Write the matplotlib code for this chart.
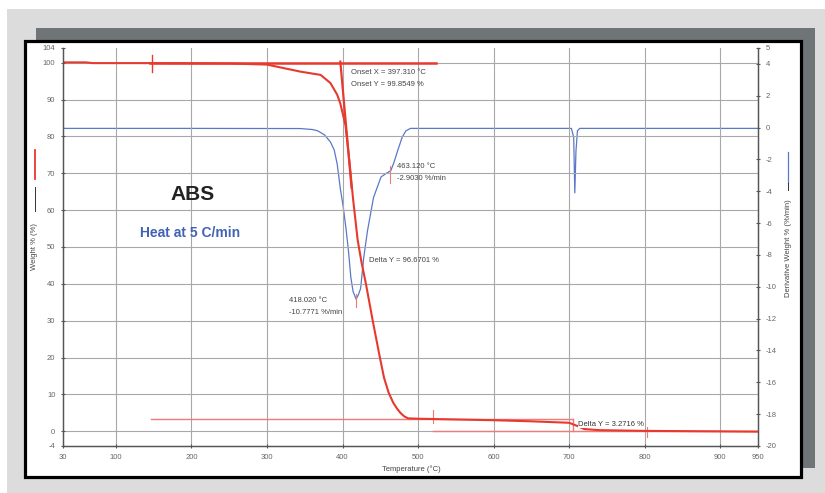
import matplotlib.pyplot as plt
from matplotlib.lines import Line2D
from matplotlib.patches import Rectangle

# weight curve (left axis, %)
temp_w = [30, 60, 70, 150, 250, 300, 344, 371, 384, 393, 397, 404, 409, 414, 420,
          425, 431, 440, 449, 455, 461, 467, 472, 477, 482, 487, 500, 550, 600,
          650, 700, 710, 720, 740, 800, 950]
weight = [100.1, 100.1, 99.9, 99.9, 99.8, 99.5, 97.6, 96.7, 94.5, 91.3, 89.0, 83.0,
          73.5, 63.0, 52.0, 46.0, 40.0, 30.0, 20.5, 14.5, 10.5, 7.8, 6.2, 4.9, 4.0,
          3.5, 3.4, 3.2, 3.0, 2.7, 2.3, 1.5, 0.6, 0.3, 0.1, -0.1]

# derivative weight curve (right axis, %/min)
temp_d = [30, 200, 344, 360, 367, 376, 384, 389, 393, 397, 401, 405, 408, 411, 414,
          418, 421, 424, 428, 433, 441, 451, 457, 464, 468, 473, 479, 484, 490, 600,
          703, 706, 707.5, 709, 711, 714, 800, 950]
deriv = [-0.05, -0.05, -0.06, -0.12, -0.2, -0.45, -0.9, -1.4, -2.3, -3.8, -5.0, -6.5,
         -7.8, -9.4, -10.3, -10.78, -10.5, -10.1, -8.2, -6.5, -4.4, -3.1, -2.9, -2.7,
         -2.2, -1.45, -0.6, -0.2, -0.05, -0.05, -0.05, -0.6, -4.1, -1.5, -0.2, -0.05,
         -0.05, -0.05]

x_ticks = [30, 100, 200, 300, 400, 500, 600, 700, 800, 900, 950]
y_ticks = [-4, 0, 10, 20, 30, 40, 50, 60, 70, 80, 90, 100, 104]
y2_ticks = [-20, -18, -16, -14, -12, -10, -8, -6, -4, -2, 0, 2, 4, 5]

onset_x, onset_y = 397.310, 99.8549
tangent_slope = -2.3
peak_t, peak_d = 418.020, -10.7771
shoulder_t, shoulder_d = 463.120, -2.9030
delta_main = 96.6701
delta_res = 3.2716
residue_hi, residue_lo = 3.3, 0.0

RED = "#e8392e"
LRED = "#f07a78"
BLUE = "#5a78c8"
TXT = "#444444"

W, H = 825, 493
plt.rcParams["font.family"] = ["Liberation Sans", "DejaVu Sans"]
plt.rcParams["axes.unicode_minus"] = False


def box(fig, x0, y0, x1, y1, **kw):
    fig.add_artist(Rectangle((x0 / W, 1 - y1 / H), (x1 - x0) / W, (y1 - y0) / H,
                             transform=fig.transFigure, **kw))


def vline_px(fig, x, y0, y1, **kw):
    fig.add_artist(Line2D([x / W, x / W], [1 - y0 / H, 1 - y1 / H],
                          transform=fig.transFigure, **kw))


def main():
    fig = plt.figure(figsize=(W / 100, H / 100), dpi=100)
    fig.patch.set_facecolor("white")

    # screenshot-like frame
    box(fig, 7, 9, 825, 493, facecolor="#dcdcdc", edgecolor="none", zorder=-3)
    box(fig, 36, 28, 815, 468, facecolor="#6f7477", edgecolor="none", zorder=-2)
    box(fig, 25, 41, 801, 477, facecolor="white", edgecolor="black", lw=2.3, zorder=-1)

    ax = fig.add_axes([63 / W, 1 - 446 / H, (758 - 63) / W, (446 - 48) / H])
    ax2 = ax.twinx()
    ax.set_zorder(ax2.get_zorder() + 1)
    ax.patch.set_visible(False)

    ax.set_xlim(30, 950)
    ax.set_ylim(-4, 104)
    ax2.set_ylim(-20, 5)
    ax.set_xticks(x_ticks)
    ax.set_yticks(y_ticks)
    ax2.set_yticks(y2_ticks)

    ax.grid(True, color="#a8a8a8", lw=0.8)
    for gl, t in zip(ax.get_ygridlines(), y_ticks):
        if t in (-4, 104):
            gl.set_visible(False)
    for gl, t in zip(ax.get_xgridlines(), x_ticks):
        if t in (30, 950):
            gl.set_visible(False)

    for a in (ax, ax2):
        a.spines["top"].set_visible(False)
        for s in ("left", "right", "bottom"):
            a.spines[s].set_color("#555555")
            a.spines[s].set_linewidth(0.9)
        a.tick_params(labelsize=5.5, labelcolor="#666666", color="#555555",
                      length=3, width=0.8, direction="inout", pad=4)

    # derivative curve
    ax2.plot(temp_d, deriv, color=BLUE, lw=0.9)
    ax2.plot([shoulder_t, shoulder_t], [shoulder_d + 0.5, shoulder_d - 0.6],
             color=LRED, lw=0.8)
    ax2.plot([peak_t, peak_t], [peak_d + 0.3, peak_d - 0.5], color=LRED, lw=0.8)

    # onset construction
    ax.plot([145, 524], [100, 100], color=RED, lw=1.8)
    ax.plot([148, 148], [97.5, 102], color=RED, lw=1.0)
    t_top = onset_x + (100.3 - onset_y) / tangent_slope
    t_end = onset_x + (66 - onset_y) / tangent_slope
    ax.plot([t_top, t_end], [100.3, 66], color=RED, lw=1.6)

    # residue step construction
    ax.plot([147, 705], [residue_hi, residue_hi], color=LRED, lw=1.0)
    ax.plot([520, 950], [residue_lo, residue_lo], color=LRED, lw=1.0)
    ax.plot([705, 705], [residue_hi, residue_lo], color=LRED, lw=1.0)
    ax.plot([520, 520], [5.7, 2.2], color=LRED, lw=0.8)
    ax.plot([803, 803], [1.2, -1.5], color=LRED, lw=0.8)

    # weight curve
    ax.plot(temp_w, weight, color=RED, lw=1.5)

    ax.text(411, 97.3, f"Onset X = {onset_x:.3f} °C", fontsize=5.5, color=TXT, va="center")
    ax.text(411, 94.2, f"Onset Y = {onset_y:.4f} %", fontsize=5.5, color=TXT, va="center")
    ax.text(472, 71.8, f"{shoulder_t:.3f} °C", fontsize=5.5, color=TXT, va="center")
    ax.text(472, 68.5, f"{shoulder_d:.4f} %/min", fontsize=5.5, color=TXT, va="center")
    ax.text(329, 35.4, f"{peak_t:.3f} °C", fontsize=5.5, color=TXT, va="center")
    ax.text(329, 32.2, f"{peak_d:.4f} %/min", fontsize=5.5, color=TXT, va="center")
    ax.text(435, 46.3, f"Delta Y = {delta_main:.4f} %", fontsize=5.5, color=TXT, va="center")
    ax.text(712, 1.9, f"Delta Y = {delta_res:.4f} %", fontsize=5.5, color="#333333",
            va="center", bbox=dict(facecolor="white", edgecolor="none", pad=0.5))

    ax.text(201, 64.2, "ABS", fontsize=15, fontweight="bold", color="#222222",
            ha="center", va="center")
    ax.text(132, 53.9, "Heat at 5 C/min", fontsize=10, fontweight="bold",
            color="#4262b4", va="center")

    # axis titles with their series markers
    fig.text(411 / W, 1 - 469 / H, "Temperature (°C)", fontsize=5.5, color=TXT,
             ha="center", va="center")
    vline_px(fig, 35, 150, 179, color=RED, lw=1.3)
    vline_px(fig, 35, 187, 211, color="#333333", lw=0.7)
    fig.text(35 / W, 1 - 247 / H, "Weight % (%)", fontsize=5.5, color=TXT,
             rotation=90, ha="center", va="center")
    vline_px(fig, 788, 152, 183, color=BLUE, lw=0.9)
    vline_px(fig, 788, 183, 190, color="#333333", lw=0.7)
    fig.text(788 / W, 1 - 248 / H, "Derivative Weight % (%/min)", fontsize=5.5,
             color=TXT, rotation=90, ha="center", va="center")

    fig.savefig("out.png", dpi=100)


if __name__ == "__main__":
    main()
